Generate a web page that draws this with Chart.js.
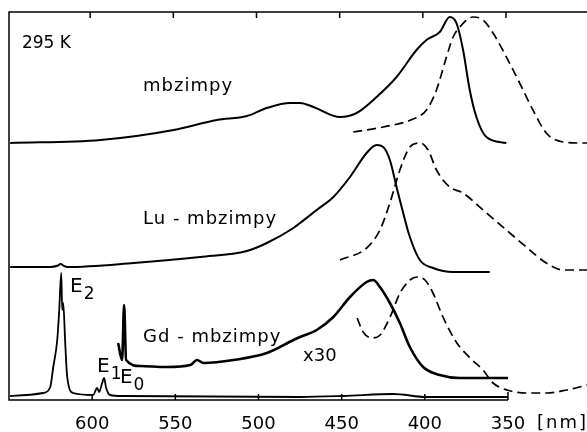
<!DOCTYPE html>
<html>
<head>
<meta charset="utf-8">
<script src="https://cdn.jsdelivr.net/npm/chart.js@4.4.1/dist/chart.umd.min.js"></script>
<style>
  html, body { margin: 0; padding: 0; background: #fff; }
  #canvas { display: block; }
</style>
</head>
<body>
<canvas id="canvas" width="587" height="432"></canvas>
<script>
"use strict"
// wavelength [nm] and intensity (arb. units)
// mbzimpy
const mbEmWl = [649.3, 595, 551, 525, 507, 495, 481, 475, 467, 451, 441, 429, 417, 405, 399, 391, 385, 381, 377, 373, 369, 363, 351];
const mbEmI  = [0, 0.75, 3.25, 5.75, 6.75, 8.75, 10, 10, 9, 6.5, 7.5, 11.5, 16.5, 23.25, 25.75, 27.75, 31.5, 30, 23.25, 13.25, 6.5, 1.5, 0];
const mbExWl = [443, 425, 407, 399, 393, 387, 383, 379, 371, 365, 359, 351, 343, 335, 327, 317, 307, 302.5];
const mbExI  = [2.75, 4, 6, 8.25, 13.25, 21.5, 26.5, 29, 31.5, 30.75, 27.5, 21.5, 15, 8.25, 2.5, 0.25, 0, 0];
// Lu-mbzimpy
const luEmWl = [649.3, 625, 621, 619, 617, 615, 575, 535, 507, 495, 479, 475, 465, 455, 445, 435, 429, 425, 421, 417, 413, 409, 403, 395, 383, 361];
const luEmI  = [0, 0, 0.3, 0.75, 0.3, 0, 1, 2.5, 4, 6, 9.75, 11, 14.25, 17.5, 22.5, 28.5, 30.5, 30, 26.75, 20, 13.5, 7.5, 1.75, -0.25, -1.25, -1.25];
const luExWl = [451, 435, 427, 421, 415, 409, 403, 398, 393, 385, 377, 365, 351, 339, 327, 317, 302.5];
const luExI  = [1.75, 4.75, 9.25, 16, 24.25, 30, 31, 29.25, 24.25, 20, 18.5, 14.25, 9.25, 5, 1, -0.75, -0.75];
// Gd-mbzimpy
const gdEmWl = [649.3, 629.4, 625.2, 623.4, 621, 619.8, 618.6, 618, 617.4, 616.2, 615, 611.4, 599.4, 597, 595.8, 594, 592.8, 591.6, 589.2, 581.4, 475, 449, 419, 399, 350];
const gdEmI  = [0, 0.75, 2.25, 7.25, 14, 21.5, 30.75, 21.5, 23.25, 13.25, 4.75, 0.75, 0.25, 2, 1, 3.25, 4.5, 2, 0.25, 0, -0.25, 0, 0.5, -0.25, -0.25];
const gd30Wl = [584.4, 582, 580.8, 579.6, 571, 555, 541, 537, 533, 515, 495, 479, 475, 465, 455, 445, 435, 431, 427, 421, 415, 409, 401, 391, 379, 350];
const gd30I  = [8.75, 4.5, 18.25, 4.5, 3, 2.75, 3.25, 4.5, 3.75, 4.5, 6.25, 9.5, 10.25, 12, 15.25, 20.25, 24, 24.5, 22.75, 18.75, 13.75, 7.75, 2.75, 0.75, 0, 0];
const gdExWl = [440.7, 437.1, 431.7, 426.9, 420.9, 414.9, 408.9, 404.7, 399.9, 395.1, 389.1, 380.7, 372.8, 365, 359, 350.6, 338.6, 326.6, 314.6, 302.5];
const gdExI  = [19.5, 16, 14.5, 15.25, 19.75, 25.75, 29, 29.75, 29, 25.75, 19.75, 13.25, 9.5, 6.5, 3.25, 1.5, 0.75, 0.75, 1.5, 2.75];

const tickNm = [600, 550, 500, 450, 400, 350];

// vertical offsets of the three stacked panels
const offTop = 64.25, offMid = 33.25, offLow = 1, offX30 = 5.5;

function pts(wl, val, off) {
    return wl.map((w, i) => ({x: w, y: val[i] + off}));
}

function line(wl, val, off, dashed, width) {
    return {
        data: pts(wl, val, off),
        borderColor: "#000",
        borderWidth: width || 2,
        borderDash: dashed ? [9, 5] : [],
        pointRadius: 0,
        cubicInterpolationMode: "monotone",
        fill: false
    };
}

// text labels: [text, nm, y, size, letterSpacing, sub]
const labels = [
    ["295 K", 642.2, 88, 17, 0],
    ["mbzimpy", 569.4, 77.25, 18, 1],
    ["Lu - mbzimpy", 569.4, 44, 18, 1],
    ["Gd - mbzimpy", 569.4, 14.5, 18, 1],
    ["x30", 473.2, 9.75, 18, 0],
    ["E", 613.3, 27, 20, 0, "2"],
    ["E", 597.1, 7, 20, 0, "1"],
    ["E", 583.3, 4.25, 20, 0, "0"]
];

const framePlugin = {
    id: "frame",
    afterDraw(chart) {
        const ctx = chart.ctx;
        const a = chart.chartArea;
        const xs = chart.scales.x, ys = chart.scales.y;
        ctx.save();
        ctx.strokeStyle = "#000";
        ctx.lineWidth = 1.5;
        ctx.setLineDash([]);
        const xEnd = xs.getPixelForValue(350);
        ctx.beginPath();
        ctx.moveTo(a.right, a.top);
        ctx.lineTo(a.left, a.top);
        ctx.lineTo(a.left, a.bottom);
        ctx.lineTo(xEnd, a.bottom);
        tickNm.forEach(v => {
            const px = xs.getPixelForValue(v);
            ctx.moveTo(px, a.bottom);
            ctx.lineTo(px, a.bottom - (v === 350 ? 8 : 6));
            ctx.moveTo(px - 2, a.top);
            ctx.lineTo(px - 2, a.top + 6);
        });
        ctx.stroke();

        ctx.fillStyle = "#000";
        ctx.textBaseline = "alphabetic";
        ctx.textAlign = "left";
        ctx.font = "18px 'DejaVu Sans'";
        ctx.letterSpacing = "2px";
        ctx.fillText("[nm]", xEnd + 29, 428);

        labels.forEach(l => {
            const px = xs.getPixelForValue(l[1]);
            const py = ys.getPixelForValue(l[2]);
            ctx.font = l[3] + "px 'DejaVu Sans'";
            ctx.letterSpacing = l[4] + "px";
            ctx.fillText(l[0], px, py);
            if (l[5]) {
                const w = ctx.measureText(l[0]).width;
                ctx.font = "17px 'DejaVu Sans'";
                ctx.fillText(l[5], px + w + 1, py + 7);
            }
        });
        ctx.restore();
    }
};

const chartOptions = {
    type: "line",
    data: {
        datasets: [
            line(mbEmWl, mbEmI, offTop, false),
            line(mbExWl, mbExI, offTop, true, 1.7),
            line(luEmWl, luEmI, offMid, false),
            line(luExWl, luExI, offMid, true, 1.7),
            line(gdEmWl, gdEmI, offLow, false, 1.8),
            line(gd30Wl, gd30I, offX30, false, 2.6),
            line(gdExWl, gdExI, offLow, true, 1.7)
        ]
    },
    options: {
        responsive: false,
        animation: false,
        devicePixelRatio: 1,
        layout: {padding: {left: 9, right: 0, top: 12, bottom: 2}},
        plugins: {legend: {display: false}, tooltip: {enabled: false}},
        scales: {
            x: {
                type: "linear",
                reverse: true,
                min: 302.5,
                max: 650,
                afterBuildTicks: (scale) => { scale.ticks = tickNm.map(v => ({value: v})); },
                afterFit: (scale) => { scale.height = 30; },
                grid: {display: false, drawTicks: false},
                border: {display: false},
                ticks: {
                    color: "#000",
                    padding: 15,
                    maxRotation: 0,
                    autoSkip: false,
                    font: {family: "'DejaVu Sans'", size: 18, lineHeight: 1}
                }
            },
            y: {display: false, min: 0, max: 97}
        }
    },
    plugins: [framePlugin]
};

const chart = new Chart(document.getElementById("canvas"), chartOptions);
</script>
</body>
</html>
